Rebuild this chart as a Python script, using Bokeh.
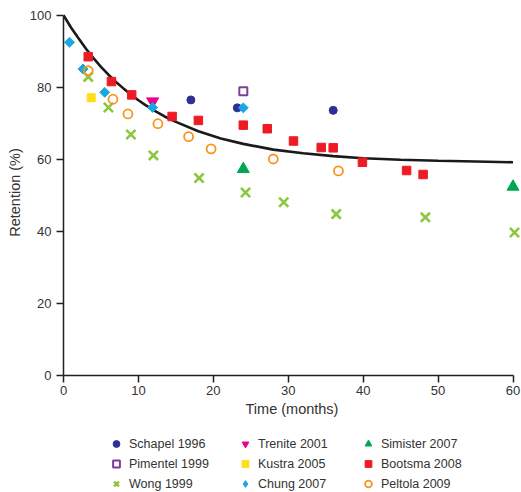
import math
from bokeh.plotting import figure
from bokeh.layouts import column
from bokeh.models import Range1d, Legend, LegendItem
from bokeh.embed import file_html
from bokeh.resources import INLINE

# ---- data (months, retention %) ----
schapel_t = [17.0, 23.2, 36.0]
schapel_r = [76.5, 74.3, 73.6]

pimentel_t = [24.0]
pimentel_r = [78.9]

wong_t = [3.3, 6.0, 9.0, 12.0, 18.1, 24.3, 29.4, 36.4, 48.3, 60.2]
wong_r = [82.9, 74.4, 66.9, 61.1, 54.8, 50.8, 48.1, 44.8, 43.9, 39.7]

trenite_t = [11.9]
trenite_r = [76.1]

kustra_t = [3.7]
kustra_r = [77.1]

chung_t = [0.8, 2.6, 5.5, 11.9, 24.0]
chung_r = [92.5, 85.1, 78.6, 74.4, 74.3]

simister_t = [24.0, 60.0]
simister_r = [57.3, 52.4]

bootsma_t = [3.3, 6.4, 9.1, 14.5, 18.0, 24.0, 27.2, 30.7, 34.4, 36.0, 39.9, 45.8, 48.0]
bootsma_r = [88.5, 81.6, 77.9, 71.9, 70.8, 69.5, 68.5, 65.1, 63.3, 63.2, 59.2, 56.9, 55.8]

peltola_t = [3.3, 6.6, 8.6, 12.6, 16.7, 19.7, 28.0, 36.7]
peltola_r = [84.6, 76.7, 72.6, 69.9, 66.3, 62.9, 60.1, 56.8]

# fitted curve
curve_t = [0, 1, 2, 3, 4, 5, 6, 7, 8, 9, 10, 11, 12, 13.5, 15, 18, 21, 24, 28, 32, 36, 40, 45, 50, 55, 60]
curve_r = [100, 96.6, 93.6, 90.7, 88.1, 85.7, 83.5, 81.5, 79.7, 78.0, 76.4, 75.0, 73.7, 71.9, 70.4,
           67.8, 65.8, 64.3, 62.7, 61.7, 60.9, 60.3, 59.9, 59.6, 59.4, 59.2]

x_ticks = [0, 10, 20, 30, 40, 50, 60]
y_ticks = [0, 20, 40, 60, 80, 100]

series_names = ["Schapel 1996", "Pimentel 1999", "Wong 1999",
                "Trenite 2001", "Kustra 2005", "Chung 2007",
                "Simister 2007", "Bootsma 2008", "Peltola 2009"]

FONT = "Liberation Sans"
TXT = "#333333"
AX = "#231f20"

STYLES = {
    "Schapel 1996": dict(marker="circle", size=8, fill_color="#2e3192", line_color="#2e3192"),
    "Pimentel 1999": dict(marker="square", size=8, fill_color="white", line_color="#7b3f98", line_width=2),
    "Wong 1999": dict(marker="x", size=13, line_color="#8dc63f", line_width=2.6),
    "Trenite 2001": dict(marker="inverted_triangle", size=12, fill_color="#ec008c", line_color="#ec008c"),
    "Kustra 2005": dict(marker="square", size=8, fill_color="#ffde17", line_color="#ffde17"),
    "Chung 2007": dict(marker="square", angle=math.pi / 4, size=7, fill_color="#1ba7e1", line_color="#1ba7e1"),
    "Simister 2007": dict(marker="triangle", size=12, fill_color="#00a651", line_color="#00a651"),
    "Bootsma 2008": dict(marker="square", size=8.5, fill_color="#ed1c24", line_color="#ed1c24"),
    "Peltola 2009": dict(marker="circle", size=9, fill_color=None, line_color="#f7941d", line_width=1.8),
}
LEGEND_STYLES = dict(STYLES)
LEGEND_STYLES["Chung 2007"] = dict(marker="diamond", size=12, fill_color="#1ba7e1", line_color="#1ba7e1")

DATA = {
    "Schapel 1996": (schapel_t, schapel_r),
    "Pimentel 1999": (pimentel_t, pimentel_r),
    "Wong 1999": (wong_t, wong_r),
    "Trenite 2001": (trenite_t, trenite_r),
    "Kustra 2005": (kustra_t, kustra_r),
    "Chung 2007": (chung_t, chung_r),
    "Simister 2007": (simister_t, simister_r),
    "Bootsma 2008": (bootsma_t, bootsma_r),
    "Peltola 2009": (peltola_t, peltola_r),
}

p = figure(width=521, height=430, output_backend="svg", toolbar_location=None,
           x_range=Range1d(0, 61), y_range=Range1d(0, 101.6),
           min_border_left=63, min_border_right=1, min_border_top=9, min_border_bottom=55)
p.outline_line_color = None
p.grid.visible = False

for ax in (p.xaxis[0], p.yaxis[0]):
    ax.axis_line_color = AX
    ax.axis_line_width = 1.5
    ax.major_tick_line_color = AX
    ax.major_tick_line_width = 1.5
    ax.major_tick_in = 0
    ax.major_tick_out = 7
    ax.minor_tick_line_color = None
    ax.major_label_text_font = FONT
    ax.major_label_text_font_size = "13px"
    ax.major_label_text_color = TXT
    ax.axis_label_text_font = FONT
    ax.axis_label_text_font_size = "14.5px"
    ax.axis_label_text_font_style = "normal"
    ax.axis_label_text_color = TXT

p.xaxis.ticker = x_ticks
p.yaxis.ticker = y_ticks
p.xaxis.bounds = (0, 60)
p.yaxis.bounds = (0, 100)
p.xaxis.axis_label = "Time (months)"
p.yaxis.axis_label = "Retention (%)"
p.xaxis.major_label_standoff = 3
p.yaxis.major_label_standoff = 5
p.xaxis.axis_label_standoff = 3
p.yaxis.axis_label_standoff = 4

p.line(curve_t, curve_r, line_color="#1a1a1a", line_width=2.6)

for name in series_names:
    t, r = DATA[name]
    p.scatter(t, r, **STYLES[name])

# ---- legend strip (its plot ranges hide the data; only the legend shows) ----
lg = figure(width=521, height=62, output_backend="svg", toolbar_location=None,
            x_range=Range1d(0, 1), y_range=Range1d(0, 1), min_border=0)
lg.axis.visible = False
lg.grid.visible = False
lg.outline_line_color = None

legend_renderers = {}
for name in series_names:
    t, r = DATA[name]
    legend_renderers[name] = lg.scatter(t, r, **LEGEND_STYLES[name])

col_x = [43, 172, 295]
for ci, xpos in enumerate(col_x):
    names = series_names[ci * 3:(ci + 1) * 3]
    leg = Legend(items=[LegendItem(label=n, renderers=[legend_renderers[n]]) for n in names],
                 location=(xpos, 0))
    leg.border_line_color = None
    leg.background_fill_alpha = 0
    leg.padding = 0
    leg.margin = 0
    leg.spacing = 3
    leg.glyph_width = 20
    leg.glyph_height = 17
    leg.label_height = 17
    leg.label_standoff = 3
    leg.label_text_font = FONT
    leg.label_text_font_size = "12.5px"
    leg.label_text_color = TXT
    lg.add_layout(leg)

layout = column(p, lg, spacing=0)
open("out.html", "w").write(file_html(layout, INLINE))
